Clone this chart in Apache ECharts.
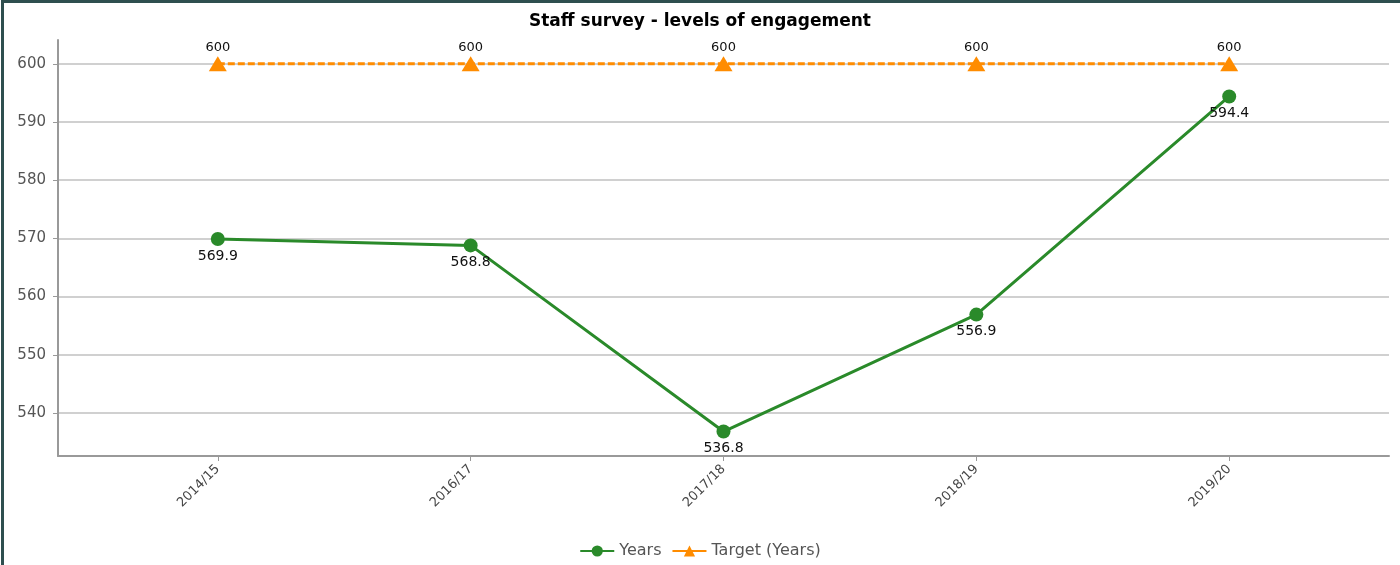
<!DOCTYPE html>
<html>
<head>
<meta charset="utf-8">
<script src="https://cdn.jsdelivr.net/npm/echarts@6/dist/echarts.min.js"></script>
<style>
  html, body { margin: 0; padding: 0; background: #fff; }
  #wrap { position: relative; width: 1400px; height: 565px; }
  #chart { width: 1400px; height: 565px; }
  #frame { position: absolute; left: 1px; top: 0; width: 1399px; height: 565px;
           border-top: 3px solid #2f4f4f; border-left: 3px solid #2f4f4f;
           box-sizing: border-box; pointer-events: none; }
</style>
</head>
<body>
<div id="wrap">
  <div id="chart"></div>
  <div id="frame"></div>
</div>
<script>
const categories = ['2014/15', '2016/17', '2017/18', '2018/19', '2019/20'];
const yearsValues = [569.9, 568.8, 536.8, 556.9, 594.4];
const targetValues = [600, 600, 600, 600, 600];
const yTicks = [540, 550, 560, 570, 580, 590, 600];

const catIdx = categories.map((c, i) => i);
const pairs = vals => vals.map((v, i) => [i, v]);

const chart = echarts.init(document.getElementById('chart'), null, { renderer: 'canvas' });
chart.setOption({
  animation: false,
  backgroundColor: '#ffffff',
  title: {
    text: 'Staff survey - levels of engagement',
    left: 'center',
    top: 8,
    textStyle: { fontFamily: 'DejaVu Sans', fontSize: 17, fontWeight: 'bold', color: '#000' }
  },
  legend: {
    bottom: 1,
    left: 'center',
    itemWidth: 34,
    itemHeight: 14,
    itemGap: 10,
    textStyle: { fontFamily: 'DejaVu Sans', fontSize: 16, color: '#555' },
    data: [
      { name: 'Years' },
      { name: 'Target (Years)', lineStyle: { type: 'solid' } }
    ]
  },
  grid: { left: 58, right: 11, top: 40, bottom: 109 },
  xAxis: {
    type: 'value',
    min: -0.632,
    max: 4.632,
    axisLine: { show: true, onZero: false, lineStyle: { color: '#999', width: 2 } },
    axisTick: { show: true, length: 5, customValues: catIdx, lineStyle: { color: '#999' } },
    splitLine: { show: false },
    axisLabel: {
      customValues: catIdx,
      rotate: 45,
      margin: 11,
      fontFamily: 'DejaVu Sans',
      fontSize: 13,
      color: '#444',
      formatter: v => categories[Math.round(v)]
    }
  },
  yAxis: {
    type: 'value',
    min: 532.6,
    max: 604.1,
    axisLine: { show: true, onZero: false, lineStyle: { color: '#999', width: 2 } },
    axisTick: { show: true, length: 5, customValues: yTicks, lineStyle: { color: '#999' } },
    splitLine: { show: true, lineStyle: { color: '#d0d0d0', width: 2 } },
    axisLabel: {
      customValues: yTicks,
      margin: 12,
      fontFamily: 'DejaVu Sans',
      fontSize: 15,
      color: '#555'
    }
  },
  series: [
    {
      name: 'Years',
      type: 'line',
      data: pairs(yearsValues),
      symbol: 'circle',
      symbolSize: 14,
      itemStyle: { color: '#2a8a2a' },
      lineStyle: { color: '#2a8a2a', width: 3 },
      label: {
        show: true,
        position: 'bottom',
        distance: 3,
        fontFamily: 'DejaVu Sans',
        fontSize: 14,
        color: '#111',
        formatter: p => p.value[1].toFixed(1)
      },
      z: 3
    },
    {
      name: 'Target (Years)',
      type: 'line',
      data: pairs(targetValues),
      symbol: 'triangle',
      symbolSize: [18, 15],
      itemStyle: { color: '#ff8c00' },
      lineStyle: { color: '#ff8c00', width: 3, type: [7, 3] },
      label: {
        show: true,
        position: 'top',
        distance: 2,
        fontFamily: 'DejaVu Sans',
        fontSize: 13,
        color: '#111',
        formatter: p => String(p.value[1])
      },
      z: 2
    }
  ]
});
</script>
</body>
</html>
